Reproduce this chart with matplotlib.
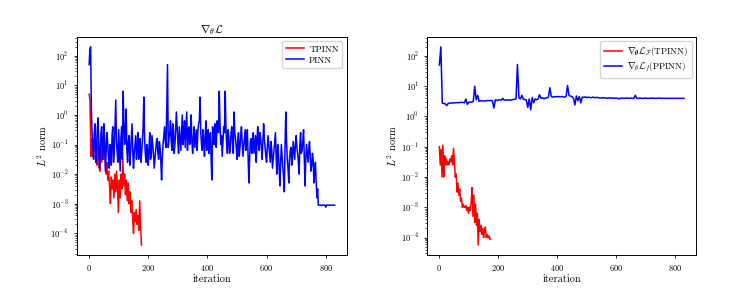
import numpy as np
import matplotlib
matplotlib.use("Agg")
import matplotlib.pyplot as plt

plt.rcParams['font.family'] = 'serif'
plt.rcParams['font.serif'] = ['cmr10', 'DejaVu Serif']
plt.rcParams['mathtext.fontset'] = 'cm'
plt.rcParams['axes.formatter.use_mathtext'] = True

# ---- data (log10 of L2 norm) ----
step_pinn = 5
# PINN (left) at iterations 0, 5, 10, ...
pinn_left_log = [1.7, 2.3, -0.6, -1.5, -0.3, -1.2, -0.1, -1.8, -0.6, -1.5,
                 -0.3, -1.9, -0.6, -1.4, -1.0, -1.7, -0.4, -1.2, 0.5, -1.3,
                 -0.5, -1.9, -0.4, 0.8, -1.0, 0.2, -1.6, -0.7, -1.3, -0.3,
                 -1.8, -1.0, -1.5, -0.6, -1.2, -1.6, -0.9, 0.6, -1.3, -1.0,
                 -1.7, -0.6, -1.4, -1.0, -1.8, -1.2, -0.8, -1.5, -1.1, -2.2,
                 -1.0, -0.4, -1.1, 1.7, -0.8, -0.2, -1.2, -0.5, -1.0, 0.1,
                 -0.9, -0.4, -1.2, 0.0, -0.7, -1.1, 0.1, -0.6, -1.0, 0.0,
                 -1.3, -0.4, -0.8, -1.2, -0.3, 0.6, -1.0, -0.5, -1.4, -0.2,
                 -0.8, -1.3, -0.6, -2.2, -0.9, -0.3, -1.1, -0.5, 0.8, -1.0,
                 -1.4, -0.4, 0.8, -1.0, -0.5, -1.3, -0.6, -1.0, 0.1, -0.8,
                 -1.5, -0.6, -1.1, -0.4, -1.4, -0.8, -1.2, -0.5, -2.3, -0.9,
                 -1.3, -0.6, -1.0, -1.6, -0.4, -1.2, -0.8, -1.5, -0.3, -1.1,
                 -1.6, -0.7, -1.3, -0.9, -1.8, -1.2, -0.6, -2.0, -1.3, -2.4,
                 -1.0, -1.8, -2.6, 0.1, -1.5, -2.3, -1.2, -1.7, -0.9, -1.5,
                 -0.7, -1.3, -2.0, -0.6, -1.2, -0.5, -2.4, -1.0, -1.6, -0.9,
                 -1.9, -1.3, -2.3, -1.6, -2.8, -3.05, -3.05, -3.06, -3.05, -3.05,
                 -3.12, -3.05, -3.05, -3.05, -3.05, -3.05, -3.05]
# PINN (left) at iterations 2.5, 7.5, 12.5, ...
pinn_left_mid_log = [2.2, 0.2,
                     -1.0, -0.6, -1.6, -0.5, -1.0, -1.3, -0.4, -1.2,
                     -1.0, -1.2, -0.9, -1.8, -1.2, -0.7, -1.6, -0.3, -0.9, -1.6,
                     -1.2, -0.8, -1.5, -0.2, -0.6, -1.2, -0.9, -1.7, -0.8, -1.2,
                     -1.3, -0.7, -1.1, -1.5, -0.8, -1.3, -0.4, -0.8, -1.6, -1.2,
                     -1.1, -1.5, -0.7, -1.3, -1.5, -0.9, -1.3, -0.9, -1.6, -1.4,
                     -0.7, -0.9, 0.3, -1.1, -0.6, -0.9, -0.3, -1.3, -0.5, -0.4,
                     -1.3, -0.8, -0.6, -1.0, -0.2, -0.5, -1.2, -0.4, -0.7, -0.9,
                     -0.8, -1.1, -0.5, -0.6, -0.2, -0.6, -1.2, -0.9, -0.7, -1.2,
                     -0.5, -0.9, -1.5, -0.4, -1.0, -0.8, -0.2, -0.6, -0.3, -0.7,
                     -0.9, -0.6, -0.4, -1.3, -0.8, -1.1, -0.4, -1.3, -0.6, -1.1,
                     -0.9, -1.4, -0.7, -0.9, -1.1, -0.5, -0.9, -1.4, -1.5, -0.8,
                     -0.9, -1.3, -0.7, -0.9, -1.0, -0.6, -1.1, -0.9, -0.8, -1.4,
                     -1.1, -1.0, -1.6, -1.2, -1.5, -0.9, -1.5, -1.0, -1.8, -1.6,
                     -1.4, -2.1, -1.0, -0.9, -1.8, -1.5, -1.1, -1.4, -1.2, -1.0,
                     -1.1, -1.6, -1.0, -1.3, -0.9, -1.4, -1.5, -1.3, -1.2, -1.4,
                     -1.7, -1.5, -1.9, -2.2, -2.5,
                     -3.05, -3.05, -3.05, -3.05, -3.05, -3.05, -3.05, -3.05, -3.05,
                     -3.05, -3.05]

step_tp = 3
tpinn_left_log = [0.7, 0.5, -1.4, -0.8, -1.4, -1.0, -1.2, -0.9, -1.3, -1.7,
                  -0.9, -1.6, -1.9, -1.2, -1.6, -1.0, -1.5, -0.5, -1.4, -2.0,
                  -1.6, -2.2, -1.9, -2.4, -3.0, -2.1, -2.5, -2.2, -2.8, -2.0,
                  -2.6, -1.9, -2.5, -3.3, -2.2, -2.8, -2.0, -2.5, -1.5, -2.4,
                  -2.0, -2.7, -2.2, -2.9, -2.3, -3.0, -2.6, -3.3, -2.9, -3.5,
                  -4.0, -3.3, -3.6, -3.2, -3.7, -3.4, -3.9, -2.9, -3.8, -4.4]

ppinn_right_log = [1.7, 2.3, 0.44, 0.43, 0.42, 0.36, 0.43, 0.44, 0.45, 0.44,
                   0.46, 0.45, 0.46, 0.45, 0.47, 0.46, 0.47, 0.45, 0.58, 0.40,
                   0.47, 0.48, 0.47, 0.50, 1.0, 0.55, 0.70, 0.50, 0.52, 0.51,
                   0.52, 0.51, 0.52, 0.53, 0.52, 0.53, 0.52, 0.28, 0.55, 0.53,
                   0.54, 0.55, 0.54, 0.60, 0.54, 0.55, 0.54, 0.55, 0.54, 0.55,
                   0.56, 0.57, 0.58, 1.72, 0.62, 0.58, 0.70, 0.57, 0.56, 0.55,
                   0.30, 0.58, 0.22, 0.63, 0.45, 0.58, 0.55, 0.58, 0.72, 0.60,
                   0.62, 0.58, 0.61, 0.62, 0.63, 0.95, 0.66, 0.64, 0.65, 0.66,
                   0.65, 0.66, 0.65, 0.66, 0.65, 0.64, 0.66, 1.02, 0.70, 0.67,
                   0.66, 0.60, 0.38, 0.68, 0.52, 0.66, 0.45, 0.64, 0.63, 0.65,
                   0.62, 0.64, 0.63, 0.62, 0.64, 0.63, 0.62, 0.63, 0.62, 0.61,
                   0.62, 0.61, 0.62, 0.61, 0.60, 0.61, 0.62, 0.60, 0.61, 0.60,
                   0.61, 0.60, 0.58, 0.60, 0.61, 0.60, 0.60, 0.61, 0.60, 0.60,
                   0.61, 0.60, 0.60, 0.70, 0.60, 0.60, 0.61, 0.60, 0.60, 0.60,
                   0.61, 0.60, 0.60, 0.60, 0.61, 0.60, 0.60, 0.60, 0.60, 0.61,
                   0.60, 0.60, 0.60, 0.60, 0.60, 0.60, 0.60, 0.60, 0.60, 0.60,
                   0.60, 0.60, 0.60, 0.60, 0.60, 0.60, 0.60]

tpinn_right_log = [-1.0, -1.6, -1.1, -2.0, -0.95, -2.0, -1.3, -1.6, -1.4, -1.6,
                   -1.5, -1.6, -1.4, -1.5, -1.3, -1.6, -1.05, -1.5, -2.0, -1.9,
                   -2.5, -2.2, -2.6, -2.4, -2.8, -2.7, -3.0, -2.9, -3.0, -3.0,
                   -2.95, -3.1, -3.0, -3.2, -3.0, -3.1, -2.8, -2.35, -3.3, -2.6,
                   -3.5, -2.9, -3.6, -3.2, -4.25, -3.4, -3.8, -3.6, -3.9, -3.7,
                   -4.0, -3.8, -3.65, -4.0, -3.9, -4.0, -3.95, -4.05, -4.05]

xticks = [0, 200, 400, 600, 800]

fig = plt.figure(figsize=(7.39, 2.88), dpi=100)
ax1 = fig.add_axes([0.104, 0.1146, 0.3654, 0.757])
ax2 = fig.add_axes([0.578, 0.1146, 0.364, 0.757])

def it(vals, step):
    return np.arange(len(vals)) * step

# interleave PINN samples
pinn_full = np.empty(len(pinn_left_log) + len(pinn_left_mid_log))
pinn_full[0::2] = pinn_left_log
pinn_full[1::2] = pinn_left_mid_log
pinn_iter = it(pinn_full, step_pinn / 2)

LW = 1.1
ax1.plot(it(tpinn_left_log, step_tp), 10.0 ** np.array(tpinn_left_log), color='red', lw=LW, label='TPINN')
ax1.plot(pinn_iter, 10.0 ** pinn_full, color='blue', lw=LW, label='PINN')
ax1.set_title(r'$\nabla_\theta \mathcal{L}$', fontsize=8, pad=3)

ax2.plot(it(tpinn_right_log, step_tp), 10.0 ** np.array(tpinn_right_log), color='red', lw=LW,
         label=r'$\nabla_{\boldsymbol{\theta}} \mathcal{L}_\mathcal{F}$(TPINN)')
ax2.plot(it(ppinn_right_log, step_pinn), 10.0 ** np.array(ppinn_right_log), color='blue', lw=LW,
         label=r'$\nabla_{\theta} \mathcal{L}_f$(PPINN)')

for ax in (ax1, ax2):
    ax.set_yscale('log')
    ax.set_xticks(xticks)
    ax.tick_params(labelsize=6, length=2.5, width=0.6)
    ax.tick_params(which='minor', length=1.5, width=0.5)
    ax.set_xlabel('iteration', fontsize=7.5, labelpad=1)
    ax.set_ylabel(r'$L^2$ norm', fontsize=7.5, labelpad=1)
    for s in ax.spines.values():
        s.set_linewidth(0.7)
    ax.legend(loc='upper right', fontsize=6.5, handlelength=2.0, borderpad=0.4,
              labelspacing=0.3, handletextpad=0.6)

fig.savefig('out.png', dpi=100)
